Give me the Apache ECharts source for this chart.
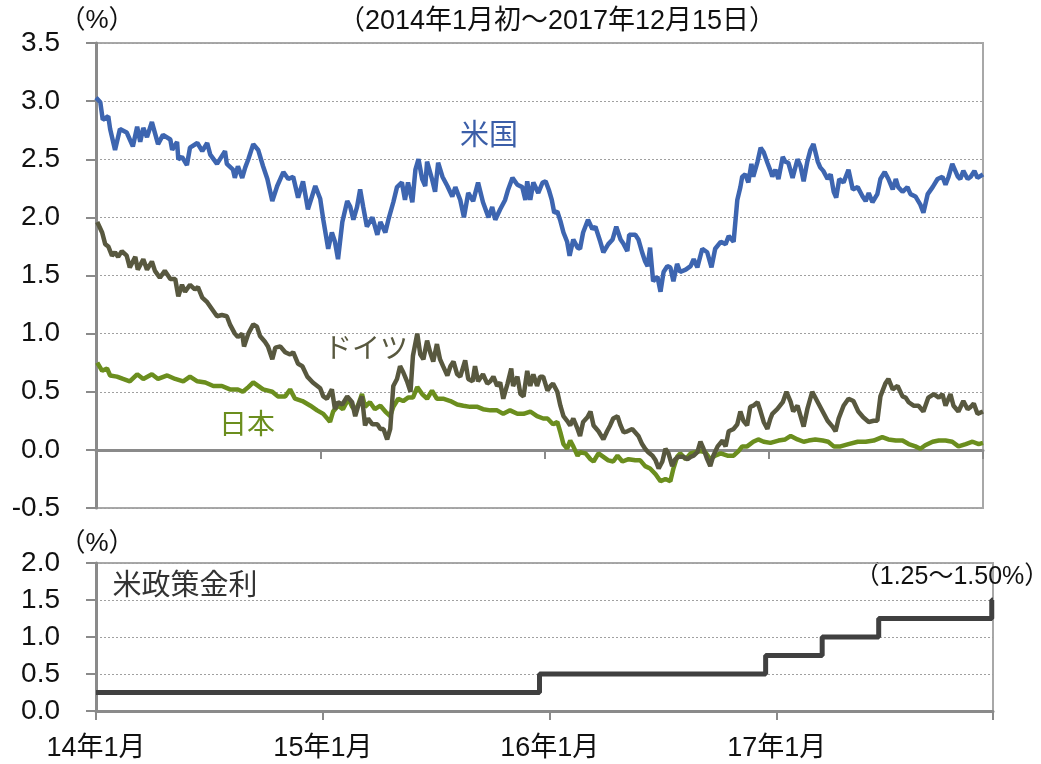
<!DOCTYPE html>
<html>
<head>
<meta charset="utf-8">
<script src="https://cdn.jsdelivr.net/npm/echarts@6/dist/echarts.min.js"></script>
<style>
html,body{margin:0;padding:0;background:#fff;}
#chart{width:1041px;height:764px;}
</style>
</head>
<body>
<div id="chart"></div>
<script>
// x values are days since 2014-01-01
const xTickLabels = ['14年1月', '15年1月', '16年1月', '17年1月'];
const endDay = 1444; // 2017-12-15

const usYield = [[0,3.03],[7,2.99],[11,2.84],[20,2.87],[23,2.76],[31,2.58],[39,2.76],[50,2.73],[60,2.61],[67,2.78],[72,2.65],[77,2.77],[83,2.69],[91,2.82],[101,2.63],[109,2.71],[121,2.67],[124,2.58],[132,2.65],[134,2.50],[140,2.52],[148,2.45],[153,2.60],[165,2.64],[173,2.57],[181,2.64],[186,2.54],[197,2.46],[210,2.57],[213,2.46],[223,2.41],[226,2.34],[231,2.44],[238,2.34],[243,2.43],[248,2.50],[256,2.63],[264,2.58],[272,2.44],[279,2.33],[287,2.14],[295,2.27],[305,2.39],[313,2.33],[321,2.35],[329,2.17],[337,2.31],[345,2.07],[357,2.27],[365,2.16],[370,1.98],[378,1.73],[384,1.87],[389,1.79],[394,1.64],[401,1.96],[409,2.14],[414,2.09],[419,1.98],[425,2.09],[430,2.24],[435,2.09],[441,1.92],[450,2.00],[458,1.85],[463,1.96],[471,1.87],[476,1.98],[484,2.13],[490,2.26],[498,2.30],[503,2.15],[508,2.30],[515,2.13],[520,2.41],[525,2.50],[531,2.33],[536,2.27],[539,2.48],[547,2.33],[552,2.22],[557,2.47],[564,2.35],[572,2.27],[580,2.18],[585,2.26],[593,2.15],[599,2.00],[606,2.21],[614,2.14],[622,2.30],[630,2.13],[639,2.00],[645,2.09],[650,1.98],[658,2.07],[666,2.15],[671,2.24],[678,2.34],[686,2.28],[694,2.26],[699,2.15],[702,2.31],[707,2.15],[712,2.30],[720,2.21],[727,2.30],[732,2.31],[737,2.24],[742,2.15],[746,2.04],[751,2.05],[756,1.97],[761,1.87],[767,1.79],[771,1.67],[777,1.81],[784,1.74],[788,1.73],[793,1.87],[801,1.98],[808,1.90],[813,1.92],[821,1.79],[826,1.70],[834,1.77],[841,1.81],[847,1.92],[854,1.81],[859,1.77],[865,1.71],[868,1.85],[878,1.85],[883,1.81],[889,1.70],[894,1.62],[898,1.58],[902,1.74],[907,1.45],[914,1.49],[919,1.36],[924,1.53],[930,1.58],[935,1.57],[940,1.45],[946,1.60],[951,1.53],[960,1.55],[968,1.58],[973,1.64],[979,1.57],[987,1.73],[995,1.70],[1002,1.57],[1008,1.73],[1017,1.79],[1025,1.77],[1030,1.84],[1038,1.79],[1044,2.15],[1049,2.26],[1052,2.35],[1057,2.37],[1062,2.30],[1067,2.46],[1070,2.35],[1077,2.48],[1082,2.60],[1087,2.56],[1093,2.47],[1098,2.40],[1101,2.35],[1106,2.41],[1111,2.33],[1118,2.52],[1122,2.48],[1127,2.47],[1134,2.34],[1142,2.50],[1147,2.44],[1152,2.31],[1158,2.48],[1163,2.58],[1168,2.63],[1175,2.48],[1179,2.43],[1184,2.40],[1191,2.33],[1196,2.37],[1201,2.22],[1205,2.17],[1210,2.33],[1217,2.30],[1225,2.41],[1232,2.24],[1240,2.26],[1248,2.18],[1253,2.14],[1258,2.21],[1264,2.13],[1272,2.20],[1277,2.33],[1284,2.39],[1290,2.33],[1297,2.24],[1302,2.33],[1306,2.26],[1313,2.22],[1321,2.26],[1326,2.20],[1334,2.18],[1342,2.11],[1347,2.04],[1354,2.20],[1362,2.26],[1370,2.33],[1378,2.35],[1383,2.28],[1388,2.35],[1394,2.46],[1403,2.35],[1407,2.33],[1412,2.40],[1419,2.33],[1424,2.35],[1430,2.40],[1435,2.34],[1444,2.37]];

const deYield = [[2,1.96],[10,1.87],[15,1.77],[20,1.75],[26,1.67],[31,1.70],[36,1.66],[42,1.71],[50,1.67],[55,1.57],[64,1.66],[68,1.55],[77,1.64],[83,1.55],[91,1.62],[96,1.54],[104,1.48],[112,1.54],[121,1.47],[129,1.47],[134,1.32],[140,1.42],[145,1.36],[153,1.42],[161,1.38],[166,1.40],[173,1.31],[181,1.27],[189,1.21],[197,1.15],[205,1.16],[213,1.15],[218,1.08],[226,1.00],[231,0.97],[238,1.00],[241,0.89],[248,1.00],[256,1.08],[262,1.06],[267,0.98],[275,0.93],[280,0.89],[287,0.78],[292,0.88],[300,0.89],[308,0.84],[316,0.82],[321,0.84],[329,0.74],[336,0.72],[344,0.63],[353,0.58],[365,0.53],[370,0.46],[376,0.44],[384,0.52],[389,0.35],[394,0.41],[401,0.39],[409,0.46],[417,0.41],[422,0.29],[427,0.38],[433,0.46],[438,0.21],[443,0.27],[450,0.22],[458,0.22],[463,0.18],[468,0.18],[474,0.09],[479,0.18],[484,0.55],[490,0.61],[495,0.72],[500,0.67],[507,0.58],[512,0.50],[516,0.81],[523,1.00],[528,0.82],[533,0.78],[539,0.94],[544,0.84],[549,0.76],[555,0.91],[560,0.78],[565,0.72],[572,0.64],[577,0.72],[582,0.76],[588,0.65],[593,0.63],[601,0.77],[606,0.61],[613,0.59],[617,0.72],[622,0.59],[630,0.65],[637,0.57],[642,0.59],[647,0.63],[653,0.55],[658,0.58],[663,0.44],[670,0.57],[676,0.70],[679,0.55],[686,0.63],[691,0.48],[696,0.46],[702,0.68],[707,0.55],[712,0.65],[718,0.55],[723,0.63],[728,0.63],[735,0.51],[740,0.55],[744,0.57],[751,0.50],[756,0.38],[761,0.29],[767,0.25],[772,0.21],[777,0.27],[784,0.18],[788,0.12],[793,0.24],[800,0.28],[805,0.33],[810,0.21],[818,0.16],[826,0.09],[832,0.16],[837,0.21],[842,0.27],[849,0.29],[854,0.21],[859,0.15],[865,0.16],[873,0.18],[878,0.15],[883,0.12],[889,0.05],[894,0.01],[899,-0.02],[906,-0.05],[911,-0.09],[916,-0.16],[922,-0.10],[927,0.01],[932,-0.03],[938,-0.14],[943,-0.08],[948,-0.06],[956,-0.06],[963,-0.08],[968,-0.06],[973,-0.05],[979,-0.02],[984,0.07],[989,0.01],[995,-0.08],[1000,-0.14],[1005,-0.05],[1012,0.03],[1020,0.08],[1025,0.03],[1030,0.16],[1038,0.18],[1044,0.22],[1049,0.33],[1054,0.25],[1060,0.21],[1065,0.37],[1070,0.38],[1077,0.41],[1082,0.33],[1087,0.24],[1093,0.18],[1098,0.27],[1101,0.31],[1109,0.35],[1118,0.41],[1124,0.50],[1131,0.41],[1135,0.33],[1142,0.38],[1147,0.29],[1152,0.20],[1158,0.35],[1166,0.50],[1175,0.41],[1183,0.33],[1191,0.25],[1199,0.20],[1204,0.16],[1209,0.27],[1217,0.38],[1225,0.44],[1233,0.42],[1241,0.33],[1249,0.28],[1258,0.24],[1266,0.25],[1272,0.25],[1277,0.46],[1285,0.57],[1290,0.61],[1297,0.52],[1305,0.55],[1313,0.46],[1318,0.45],[1323,0.41],[1331,0.38],[1339,0.38],[1347,0.33],[1355,0.45],[1364,0.48],[1372,0.45],[1378,0.48],[1383,0.38],[1391,0.48],[1396,0.38],[1404,0.33],[1412,0.42],[1419,0.35],[1424,0.37],[1429,0.40],[1435,0.31],[1444,0.33]];

const jpYield = [[2,0.75],[10,0.68],[18,0.70],[23,0.64],[34,0.63],[44,0.61],[55,0.59],[67,0.65],[77,0.61],[91,0.65],[101,0.61],[116,0.64],[129,0.61],[142,0.59],[153,0.63],[165,0.59],[178,0.58],[191,0.55],[205,0.55],[218,0.52],[231,0.52],[239,0.50],[248,0.54],[256,0.58],[264,0.55],[272,0.52],[287,0.50],[296,0.46],[308,0.46],[316,0.52],[324,0.44],[336,0.42],[349,0.38],[360,0.34],[370,0.31],[378,0.26],[381,0.24],[386,0.33],[394,0.38],[402,0.35],[411,0.44],[417,0.37],[422,0.34],[427,0.39],[433,0.48],[438,0.37],[446,0.41],[454,0.35],[463,0.38],[471,0.33],[479,0.29],[484,0.37],[492,0.44],[500,0.42],[508,0.45],[516,0.45],[523,0.54],[531,0.48],[539,0.44],[547,0.51],[555,0.44],[565,0.44],[577,0.42],[588,0.39],[598,0.38],[609,0.37],[621,0.37],[630,0.35],[642,0.34],[653,0.34],[663,0.31],[674,0.34],[686,0.31],[696,0.31],[707,0.33],[718,0.29],[728,0.27],[735,0.27],[744,0.22],[751,0.24],[756,0.15],[761,0.05],[767,0.01],[772,0.08],[777,0.03],[784,-0.05],[788,-0.02],[797,-0.03],[805,-0.08],[810,-0.10],[818,-0.03],[826,-0.06],[834,-0.09],[842,-0.10],[849,-0.05],[857,-0.10],[867,-0.08],[878,-0.09],[886,-0.09],[894,-0.14],[902,-0.16],[911,-0.21],[919,-0.27],[927,-0.25],[935,-0.27],[940,-0.16],[946,-0.06],[951,-0.03],[960,-0.08],[968,-0.03],[976,-0.02],[984,-0.01],[992,-0.02],[1000,-0.08],[1008,-0.05],[1017,-0.03],[1028,-0.05],[1038,-0.05],[1046,-0.01],[1052,0.03],[1060,0.03],[1070,0.07],[1078,0.09],[1087,0.07],[1098,0.06],[1111,0.08],[1122,0.09],[1131,0.12],[1142,0.09],[1152,0.07],[1160,0.08],[1171,0.09],[1183,0.08],[1192,0.07],[1201,0.03],[1212,0.03],[1225,0.05],[1240,0.07],[1253,0.07],[1266,0.08],[1280,0.11],[1290,0.09],[1302,0.08],[1313,0.08],[1323,0.05],[1334,0.03],[1342,0.01],[1350,0.04],[1362,0.07],[1372,0.08],[1383,0.08],[1394,0.07],[1404,0.03],[1416,0.05],[1427,0.07],[1437,0.05],[1444,0.06]];

// Fed funds target (upper bound), value holds until next change
const fedRate = [[0,0.25],[714,0.50],[1078,0.75],[1169,1.00],[1260,1.25],[1442,1.50],[1444,1.50]];

const topYTicks = {min:-0.5, max:3.5, interval:0.5};
const botYTicks = {min:0, max:2.0, interval:0.5};

const FONT = "'Liberation Sans', 'Noto Sans CJK JP', Arial, sans-serif";
const axisGray = '#8a8a8a';
const gridDot = '#a0a0a0';

const chart = echarts.init(document.getElementById('chart'), null, {renderer:'canvas'});

function yAxisCommon(t) {
  return {
    type:'value', min:t.min, max:t.max, interval:t.interval,
    axisLine:{show:true, onZero:false, lineStyle:{color:axisGray, width:3}},
    axisTick:{show:true, length:10, lineStyle:{color:axisGray, width:2}},
    axisLabel:{fontSize:28, fontFamily:FONT, color:'#111', margin:36,
      formatter:v => v.toFixed(1)},
    splitLine:{show:true, lineStyle:{color:gridDot, type:[2,2], width:1}}
  };
}

const option = {
  animation:false,
  backgroundColor:'#fff',
  grid:[
    {left:96, top:43, right:58, height:465, show:true, borderColor:'#a8a8a8', borderWidth:2, containLabel:false},
    {left:96, top:563, right:48, height:148, show:true, borderColor:'#a8a8a8', borderWidth:2, containLabel:false}
  ],
  xAxis:[
    {gridIndex:0, type:'value', min:0, max:endDay, interval:365.25,
     axisLine:{show:true, onZero:true, lineStyle:{color:axisGray, width:3}},
     axisTick:{show:true, length:9, lineStyle:{color:axisGray, width:2}},
     axisLabel:{show:false}, splitLine:{show:false}},
    {gridIndex:1, type:'value', min:0, max:endDay, interval:365.25,
     axisLine:{show:true, onZero:true, lineStyle:{color:axisGray, width:3}},
     axisTick:{show:true, length:9, lineStyle:{color:axisGray, width:2}},
     axisLabel:{show:true, fontSize:27, fontFamily:FONT, color:'#111', margin:24,
       formatter:function(v){
         const i = Math.round(v/365.25);
         if (Math.abs(v - i*365.25) < 1 && i < xTickLabels.length) return xTickLabels[i];
         return '';
       }},
     splitLine:{show:false}}
  ],
  yAxis:[
    Object.assign({gridIndex:0}, yAxisCommon(topYTicks)),
    Object.assign({gridIndex:1}, yAxisCommon(botYTicks))
  ],
  series:[
    {name:'日本', type:'line', xAxisIndex:0, yAxisIndex:0, data:jpYield, showSymbol:false,
     lineStyle:{color:'#6b8e1e', width:4.5}, z:3},
    {name:'ドイツ', type:'line', xAxisIndex:0, yAxisIndex:0, data:deYield, showSymbol:false,
     lineStyle:{color:'#58583f', width:4.5}, z:4},
    {name:'米国', type:'line', xAxisIndex:0, yAxisIndex:0, data:usYield, showSymbol:false,
     lineStyle:{color:'#3d65b0', width:4.5}, z:5},
    {name:'米政策金利', type:'line', xAxisIndex:1, yAxisIndex:1, data:fedRate, showSymbol:false,
     step:'end', lineStyle:{color:'#404040', width:5}, z:5}
  ],
  graphic:[
    {type:'text', x:557, y:22, style:{text:'（2014年1月初～2017年12月15日）', font:'27px '+FONT, fill:'#111', textAlign:'center', textVerticalAlign:'middle'}},
    {type:'text', x:97, y:21, style:{text:'（%）', font:'26px '+FONT, fill:'#111', textAlign:'center', textVerticalAlign:'middle'}},
    {type:'text', x:97, y:544, style:{text:'（%）', font:'26px '+FONT, fill:'#111', textAlign:'center', textVerticalAlign:'middle'}},
    {type:'text', x:489, y:137, style:{text:'米国', font:'29px '+FONT, fill:'#3b5ea8', textAlign:'center', textVerticalAlign:'middle'}},
    {type:'text', x:366, y:350, style:{text:'ドイツ', font:'28px '+FONT, fill:'#58583f', textAlign:'center', textVerticalAlign:'middle'}},
    {type:'text', x:247, y:426, style:{text:'日本', font:'28px '+FONT, fill:'#6b8e1e', textAlign:'center', textVerticalAlign:'middle'}},
    {type:'text', x:185, y:587, style:{text:'米政策金利', font:'29px '+FONT, fill:'#333', textAlign:'center', textVerticalAlign:'middle'}},
    {type:'text', x:952, y:577, style:{text:'（1.25～1.50%）', font:'25px '+FONT, fill:'#111', textAlign:'center', textVerticalAlign:'middle'}}
  ]
};
chart.setOption(option);
</script>
</body>
</html>
